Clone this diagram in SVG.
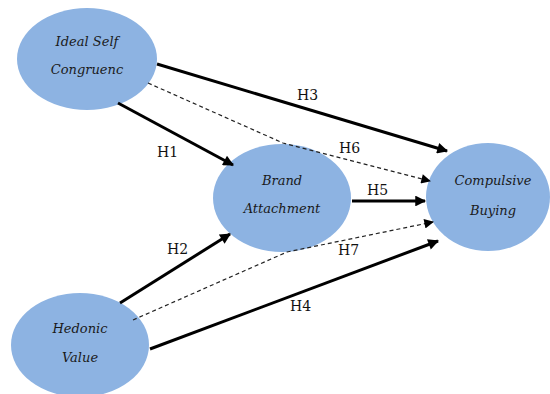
<svg xmlns="http://www.w3.org/2000/svg" width="550" height="394" viewBox="0 0 550 394">
<style>
.node{fill:#8db3e2;}
.nt{font-family:'DejaVu Serif',serif;font-style:italic;font-size:13px;fill:#1a1a1a;text-anchor:middle;}
.lbl{font-family:'DejaVu Serif',serif;font-size:14px;fill:#111;}
.solid{fill:none;stroke:#000;stroke-width:3;marker-end:url(#ah);}
.dash{fill:none;stroke:#222;stroke-width:1.2;stroke-dasharray:4 3;marker-end:url(#ahs);}
</style>
<defs>
<marker id="ah" viewBox="0 0 10 10" refX="9" refY="5" markerWidth="4" markerHeight="3.6" orient="auto" markerUnits="strokeWidth">
<path d="M0,0 L10,5 L0,10 z" fill="#000"/>
</marker>
<marker id="ahs" viewBox="0 0 10 10" refX="9" refY="5" markerWidth="9" markerHeight="8" orient="auto" markerUnits="strokeWidth">
<path d="M0,0 L10,5 L0,10 z" fill="#000"/>
</marker>
</defs>
<rect width="550" height="394" fill="#fff"/>
<g id="ideal">
<ellipse class="node" cx="87" cy="59" rx="70" ry="51"/>
<text class="nt" x="87" y="46">Ideal Self</text>
<text class="nt" x="87" y="74">Congruenc</text>
</g>
<g id="brand">
<ellipse class="node" cx="282" cy="198" rx="69" ry="54"/>
<text class="nt" x="282" y="185">Brand</text>
<text class="nt" x="282" y="213">Attachment</text>
</g>
<g id="compulsive">
<ellipse class="node" cx="488" cy="197" rx="62" ry="54"/>
<text class="nt" x="493" y="185">Compulsive</text>
<text class="nt" x="493" y="215">Buying</text>
</g>
<g id="hedonic">
<ellipse class="node" cx="80" cy="345" rx="69" ry="52"/>
<text class="nt" x="80" y="333">Hedonic</text>
<text class="nt" x="80" y="362">Value</text>
</g>
<g id="connectors">
<line class="solid" x1="157" y1="64" x2="447" y2="151"/>
<line class="solid" x1="118" y1="103" x2="233" y2="165"/>
<polyline class="dash" points="148,83 283,143 430,181"/>
<line class="solid" x1="352" y1="201" x2="425" y2="201"/>
<line class="solid" x1="120" y1="303" x2="230" y2="234"/>
<polyline class="dash" points="133,320 287,252 433,222"/>
<line class="solid" x1="150" y1="349" x2="438" y2="241"/>
<text class="lbl" x="297" y="100">H3</text>
<text class="lbl" x="157" y="157">H1</text>
<text class="lbl" x="339" y="153">H6</text>
<text class="lbl" x="367" y="195">H5</text>
<text class="lbl" x="167" y="254">H2</text>
<text class="lbl" x="338" y="255">H7</text>
<text class="lbl" x="290" y="311">H4</text>
</g>
</svg>
